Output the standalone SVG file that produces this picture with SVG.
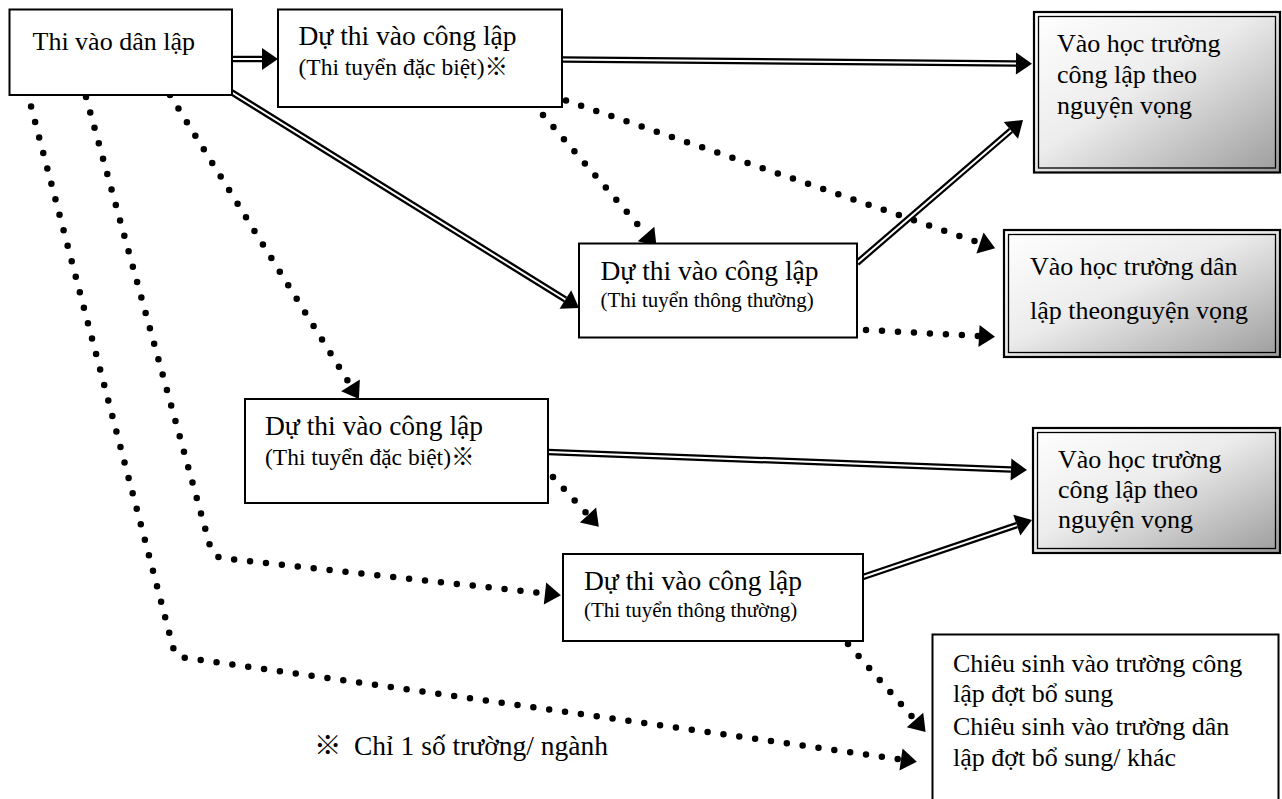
<svg xmlns="http://www.w3.org/2000/svg" width="1282" height="799" viewBox="0 0 1282 799">
<style>
  .box { fill: #ffffff; stroke: #000000; stroke-width: 2; }
  .gbox { fill: url(#grad); stroke: #000000; stroke-width: 2.2; }
  .gin { fill: none; stroke: #000000; stroke-width: 1.3; }
  .t { font-family: "Liberation Serif", "Noto Sans CJK JP", serif; fill: #000000; }
  .big { font-size: 27.5px; }
  .mid { font-size: 26px; }
  .sm1 { font-size: 23.5px; }
  .sm2 { font-size: 21px; }
  .dblb { fill: none; stroke: #000000; stroke-width: 6.5; marker-end: url(#ah); }
  .dblw { fill: none; stroke: #ffffff; stroke-width: 2; }
  .dot { fill: none; stroke: #000000; stroke-width: 6.5; stroke-linecap: round; stroke-dasharray: 0 16; marker-end: url(#ah); }
</style>
<defs>
  <linearGradient id="grad" x1="0" y1="0" x2="1" y2="1">
    <stop offset="0" stop-color="#ffffff"/>
    <stop offset="0.45" stop-color="#ececec"/>
    <stop offset="1" stop-color="#9c9c9c"/>
  </linearGradient>
  <marker id="ah" markerUnits="userSpaceOnUse" viewBox="0 -12 17 24" refX="0" refY="0" markerWidth="17" markerHeight="24" orient="auto" overflow="visible">
    <path d="M0,-11 L16,0 L0,11 Z" fill="#000000" stroke="none"/>
  </marker>
</defs>
<rect width="1282" height="799" fill="#ffffff"/>

<g id="connectors">
  <!-- double-line arrows -->
  <path class="dblb" d="M232,59 L262,59"/>
  <path class="dblw" d="M232,59 L262,59"/>
  <path class="dblb" d="M562,59.5 L1016,63.5"/>
  <path class="dblw" d="M562,59.5 L1016,63.5"/>
  <path class="dblb" d="M228,90 L565.4,299.5"/>
  <path class="dblw" d="M228,90 L565.4,299.5"/>
  <path class="dblb" d="M857,263 L1010.9,130.4"/>
  <path class="dblw" d="M857,263 L1010.9,130.4"/>
  <path class="dblb" d="M548,452 L1011,469.5"/>
  <path class="dblw" d="M548,452 L1011,469.5"/>
  <path class="dblb" d="M863,577 L1016.8,525.1"/>
  <path class="dblw" d="M863,577 L1016.8,525.1"/>
  <!-- dotted arrows -->
  <path class="dot" d="M170,95 L350.5,385.4"/>
  <path class="dot" d="M86,97 L210,546 Q213,557 224,558.5 L545,593.5"/>
  <path class="dot" d="M27,91 L173,647 Q176,658 187,658 L901,759.5"/>
  <path class="dot" d="M543,115 L646,234"/>
  <path class="dot" d="M566,100.5 L980,243"/>
  <path class="dot" d="M866,330 L979,336"/>
  <path class="dot" d="M553,477 L588,515"/>
  <path class="dot" d="M848,644 L915,720"/>
</g>

<g id="node-thi-vao-dan-lap">
  <rect class="box" x="9.5" y="9.5" width="222.5" height="85.5"/>
  <text class="t mid" x="32.5" y="50">Thi vào dân lập</text>
</g>

<g id="node-dac-biet-1">
  <rect class="box" x="278" y="9.5" width="284" height="97.5"/>
  <text class="t big" x="298.5" y="45">Dự thi vào công lập</text>
  <text class="t sm1" x="298.5" y="75">(Thi tuyển đặc biệt)※</text>
</g>

<g id="node-thong-thuong-1">
  <rect class="box" x="579" y="243.5" width="278" height="94"/>
  <text class="t big" x="600.5" y="280">Dự thi vào công lập</text>
  <text class="t sm2" x="600.5" y="307">(Thi tuyển thông thường)</text>
</g>

<g id="node-dac-biet-2">
  <rect class="box" x="245" y="399" width="303" height="104"/>
  <text class="t big" x="265" y="435">Dự thi vào công lập</text>
  <text class="t sm1" x="265" y="465">(Thi tuyển đặc biệt)※</text>
</g>

<g id="node-thong-thuong-2">
  <rect class="box" x="563" y="554" width="300" height="87"/>
  <text class="t big" x="584" y="590">Dự thi vào công lập</text>
  <text class="t sm2" x="584" y="617">(Thi tuyển thông thường)</text>
</g>

<g id="node-cong-lap-1">
  <rect class="gbox" x="1034" y="12" width="246" height="160.5"/>
  <rect class="gin" x="1038.5" y="16.5" width="237" height="151.5"/>
  <text class="t mid" x="1057" y="52">Vào học trường</text>
  <text class="t mid" x="1057" y="83">công lập theo</text>
  <text class="t mid" x="1057" y="114">nguyện vọng</text>
</g>

<g id="node-dan-lap">
  <rect class="gbox" x="1004" y="230" width="276" height="127"/>
  <rect class="gin" x="1008.5" y="234.5" width="267" height="118"/>
  <text class="t mid" x="1030" y="275">Vào học trường dân</text>
  <text class="t mid" x="1030" y="319">lập theonguyện vọng</text>
</g>

<g id="node-cong-lap-2">
  <rect class="gbox" x="1033" y="428" width="247" height="125"/>
  <rect class="gin" x="1037.5" y="432.5" width="238" height="116"/>
  <text class="t mid" x="1058" y="468">Vào học trường</text>
  <text class="t mid" x="1058" y="498">công lập theo</text>
  <text class="t mid" x="1058" y="528">nguyện vọng</text>
</g>

<g id="node-chieu-sinh">
  <rect class="box" x="932.5" y="634.5" width="346" height="190"/>
  <text class="t mid" x="953" y="672">Chiêu sinh vào trường công</text>
  <text class="t mid" x="953" y="702">lập đợt bổ sung</text>
  <text class="t mid" x="953" y="735">Chiêu sinh vào trường dân</text>
  <text class="t mid" x="953" y="766">lập đợt bổ sung/ khác</text>
</g>

<g id="footnote">
  <text class="t big" x="314" y="755">※</text>
  <text class="t big" x="354" y="755">Chỉ 1 số trường/ ngành</text>
</g>
</svg>
